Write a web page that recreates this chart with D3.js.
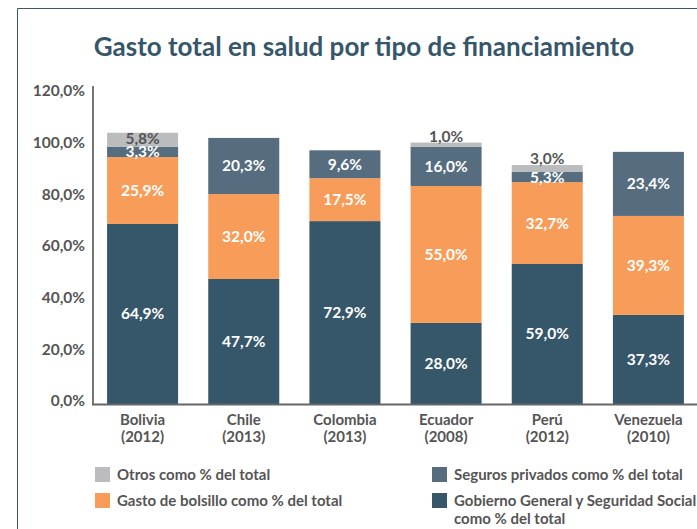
<!DOCTYPE html>
<html>
<head>
<meta charset="utf-8">
<script src="https://cdn.jsdelivr.net/npm/d3@7"></script>
<style>
  body { margin: 0; background: #fff; }
  svg { display: block; font-family: Lato, "Open Sans", sans-serif; }
</style>
</head>
<body>
<div id="chart"></div>
<script>
// categories and series (bar heights as drawn; printed labels as shown)
const paises = ["Bolivia", "Chile", "Colombia", "Ecuador", "Perú", "Venezuela"];
const anios = ["(2012)", "(2013)", "(2013)", "(2008)", "(2012)", "(2010)"];

const gobierno = [69.7, 48.4, 70.8, 31.4, 54.2, 34.5];
const bolsillo = [25.9, 32.9, 16.6, 53.0, 31.7, 38.3];
const seguros = [3.9, 21.7, 10.8, 15.1, 3.9, 24.8];
const otros = [5.5, 0, 0, 1.7, 2.7, 0];

const gobiernoLabels = ["64,9%", "47,7%", "72,9%", "28,0%", "59,0%", "37,3%"];
const bolsilloLabels = ["25,9%", "32,0%", "17,5%", "55,0%", "32,7%", "39,3%"];
const segurosLabels = ["3,3%", "20,3%", "9,6%", "16,0%", "5,3%", "23,4%"];
const otrosLabels = ["5,8%", "", "", "1,0%", "3,0%", ""];

const yTicks = [0, 20, 40, 60, 80, 100, 120];

const series = [
  { key: "gobierno", values: gobierno, labels: gobiernoLabels, color: "#36566a", text: "#fff",
    legend: ["Gobierno General y Seguridad Social", "como % del total"] },
  { key: "bolsillo", values: bolsillo, labels: bolsilloLabels, color: "#f79c59", text: "#fff",
    legend: ["Gasto de bolsillo como % del total"] },
  { key: "seguros", values: seguros, labels: segurosLabels, color: "#556d7f", text: "#fff",
    legend: ["Seguros privados como % del total"] },
  { key: "otros", values: otros, labels: otrosLabels, color: "#bbbcbe", text: "#555",
    legend: ["Otros como % del total"] }
];

const W = 697, H = 529;
const grey = "#555";

const locale = d3.formatLocale({ decimal: ",", thousands: ".", grouping: [3], currency: ["", ""] });
const fmt = locale.format(".1f");

const svg = d3.select("#chart").append("svg")
  .attr("width", W)
  .attr("height", H);

// frame (cropped on the right / bottom)
svg.append("path")
  .attr("d", `M17.5,${H} V8.5 H${W}`)
  .attr("fill", "none")
  .attr("stroke", "#3a5568")
  .attr("stroke-width", 1);

svg.append("text")
  .attr("x", 364)
  .attr("y", 56)
  .attr("text-anchor", "middle")
  .attr("fill", "#36566a")
  .attr("font-size", 26)
  .attr("font-weight", "bold")
  .text("Gasto total en salud por tipo de financiamiento");

const x = d3.scaleBand()
  .domain(paises)
  .range([92, 699])
  .paddingInner(0.298)
  .paddingOuter(0.149);

const y = d3.scaleLinear()
  .domain([0, 120])
  .range([404, 94]);

// stacking
const rows = paises.map((p, i) => {
  const r = { pais: p };
  series.forEach(s => r[s.key] = s.values[i]);
  return r;
});
const stacked = d3.stack().keys(series.map(s => s.key))(rows);

const layer = svg.selectAll(".layer")
  .data(stacked)
  .enter().append("g")
  .attr("class", "layer")
  .attr("fill", (d, i) => series[i].color);

layer.selectAll("rect")
  .data(d => d)
  .enter().append("rect")
  .attr("x", d => x(d.data.pais))
  .attr("width", x.bandwidth())
  .attr("y", d => y(d[1]))
  .attr("height", d => y(d[0]) - y(d[1]));

// value labels
stacked.forEach((lay, si) => {
  const s = series[si];
  svg.append("g").selectAll("text")
    .data(lay)
    .enter().append("text")
    .attr("x", d => x(d.data.pais) + x.bandwidth() / 2)
    .attr("y", d => {
      const h = y(d[0]) - y(d[1]);
      if (s.key === "otros" && h < 10) return y(d[1]) - 1;
      if (s.key === "otros") return (y(d[0]) + y(d[1])) / 2 + 4;
      return (y(d[0]) + y(d[1])) / 2 + 5.5;
    })
    .attr("text-anchor", "middle")
    .attr("font-size", 15.5)
    .attr("font-weight", "bold")
    .attr("fill", s.text)
    .text((d, i) => s.labels[i]);
});

// y axis
const yAxis = svg.append("g")
  .attr("transform", "translate(85,-3)")
  .call(d3.axisLeft(y).tickValues(yTicks).tickSize(0).tickPadding(0).tickFormat(v => fmt(v) + "%"));
yAxis.select(".domain").remove();
yAxis.selectAll("text")
  .attr("font-family", "Lato, sans-serif")
  .attr("font-size", 15.5)
  .attr("font-weight", "bold")
  .attr("fill", grey);

svg.append("line")
  .attr("x1", 93).attr("x2", 93)
  .attr("y1", 86).attr("y2", 405)
  .attr("stroke", "#777").attr("stroke-width", 2);

svg.append("line")
  .attr("x1", 92).attr("x2", W)
  .attr("y1", 404.5).attr("y2", 404.5)
  .attr("stroke", "#666").attr("stroke-width", 2);

// x labels
const xl = svg.append("g").selectAll("text")
  .data(paises)
  .enter().append("text")
  .attr("x", d => x(d) + x.bandwidth() / 2)
  .attr("text-anchor", "middle")
  .attr("font-size", 15)
  .attr("font-weight", "bold")
  .attr("fill", grey);
xl.append("tspan").attr("y", 425).attr("x", d => x(d) + x.bandwidth() / 2).text(d => d);
xl.append("tspan").attr("y", 442).attr("x", d => x(d) + x.bandwidth() / 2).text((d, i) => anios[i]);

// legend
const legendItems = [
  { s: series[3], lx: 95, ly: 467 },
  { s: series[1], lx: 95, ly: 493 },
  { s: series[2], lx: 432, ly: 467 },
  { s: series[0], lx: 432, ly: 493 }
];

const lg = svg.selectAll(".legend")
  .data(legendItems)
  .enter().append("g")
  .attr("class", "legend")
  .attr("transform", d => `translate(${d.lx},${d.ly})`);

lg.append("rect")
  .attr("width", 15)
  .attr("height", 15)
  .attr("fill", d => d.s.color);

lg.each(function(d) {
  const t = d3.select(this).append("text")
    .attr("font-size", 15)
    .attr("font-weight", "bold")
    .attr("fill", grey);
  d.s.legend.forEach((line, i) => {
    t.append("tspan").attr("x", 22).attr("y", 12.5 + i * 18).text(line);
  });
});
</script>
</body>
</html>
